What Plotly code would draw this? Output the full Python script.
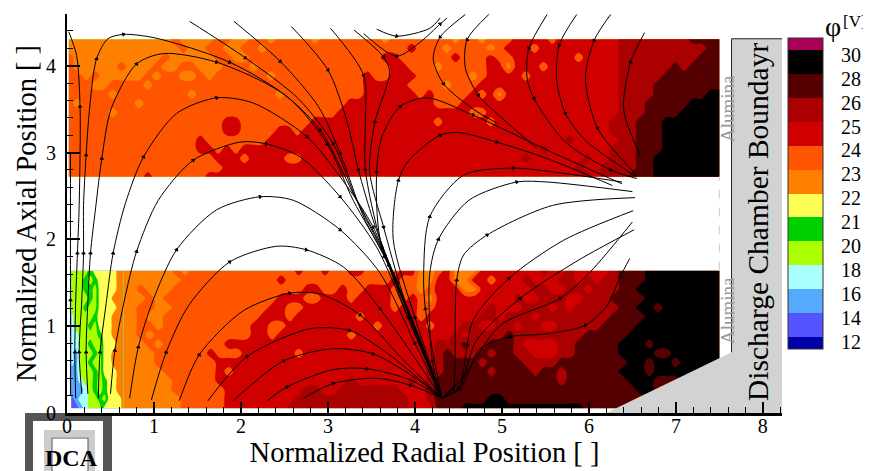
import numpy as np
import plotly.graph_objects as go

FONT = "Liberation Serif"

# potential levels: letter -> colour band, labels at band boundaries
phi_tick_labels = ["12", "14", "16", "18", "20", "21", "22", "23", "24", "25", "26", "28", "30"]
band_letters = "abcdefghijklmn"
band_colors = ["#0000a8", "#5555ff", "#55aaff", "#aaffff", "#aaff00", "#00d000", "#ffff55",
               "#ff8000", "#ff5500", "#d00000", "#aa0000", "#550000", "#000000", "#aa0055"]

# upper band of the field, top row first, x from axis to 7.5
upper_band = [
 "hhhhhhhhhh hhihhhhiih hiihiiiihi iiiiiihiii iiiihiihii ijjjjijjjj jjjkkkkkkk kllll",
 "hhhhhhhhhh hhhihhiihh iihiiiiiii iiiiiiiiij iiihiiiihi jjjijjjjjj jjjkkkkkkk kkkll",
 "ihhhhhhhhh hihhhhhiih hiiiiiiiii iiiiiijjii iiiijiiiji ijjjjjjjij jjjkkkkkkk kklll",
 "ihhhhhihhh ihhiihhhii ihiiiiiiii iiiiiiijji iihiiiiijj hjjjijjjjj jjjkkkkkkl kllll",
 "iihihhhhhi hiihhihiii iiihiiiiii iiiijiijjj iiiiiihijj jjijjjjjjj jjjkkkkkll lllll",
 "iiihhiiiih iiiiiiiiii iiiiiiiiii iiiijjjjji iiihiiijjj jjjjjjjjjj jjjkkkklll lllll",
 "iiiiihiiii iiiihiiiii iiiihiiiii iiiijjjjjj ijiiiijijh jjjjjjjjjj jjjkkkklll lllmm",
 "ihiiiiiihi iiiiiiiiii iiiiiiiiii iijjjjjjjj jjiiijjjjj jjjjjjjjjj jjjkkkllll lmmmm",
 "iiiiihiiii iiiiiiiiii iiiiiiiiii ijjjjjjjjj jjjjjjiijj jjjjjjjjjj jjjkkkllll mmmmm",
 "iiiiiiiiii iiiiiiiijj iiiiiiiijj jjjjjjjjjj jjijjjjjij jjjjjjjjjj jjkkklllmm mmmmm",
 "iiiiiiiiii iiiiiiiijj iiiijjijjj jjjjjjjjjj jjjjjjjjjj jjjjjjjjjj jjkkklllmm mmmmm",
 "iiiiiiiiii iiiiijiiii iiijjjjjjj jjjjjjjjjj jjjjjjjjjj jjjjjjjkjj jjjkklllmm mmmmm",
 "iiiiiiiiii iiiiijjiji jjjjjjjjjj jjjjjjjjjj jjjjjjjjjj jjjjkjjjjj jjkkklllmm mmmmm",
 "iiiiiiiiii iiiiiiijjj ijjjjiijjj jjjjjjjjjj jjjjjjjjjj jjkjjjjjjk jjkkkllmmm mmmmm",
 "iiiiiiiiii iiiiiiiijj jjjjjjjjjj jjjjjjjjjj jjjjjjjjjj jjjjjjjjkj jkkkkllmmm mmmmm",
 "iiiiiiiiij iiiiiijjjj jjjjjjjjjj jjjjjjjjjj jjjjjjjjjj jjjjjjjjjk jkkklllmmm mmmmm",
]

# lower band, x from 0.65 to 7.5
lower_band = [
 "hhhh hhihiiiiii iiiiiijiij iijjiiiijj hhijhhhjjj jjjjkjjkjj jjklllmmmm mmmmm",
 "hhhh hhhiiiiiii iiiijiiiii iiiiiiijii hhjjhhjjij jjkjjjkkjk jkklllmmmm mmmmm",
 "hhih hhiiiiiiii iiiiiiijji ijiijjjiii hijjjhhjjj jjjkkjjkkj kkkllmmmmm mmmmm",
 "hhhi hiiiiiiiii iiiijjjiij jjijjjjiij ihjjjjjjjj jkjjkkkjjk kkllllmmmm mmmmm",
 "hhii hhiiiiiiii iiijjiijjj jjjjjjjijj iijjjjjjkj jjkkkjkjkk kkkllmmlmm mmmmm",
 "hhih hiiiiiiiii iijjjijjjj jjjijjjjjj ijjjjjjkkj kkkjkkkkkk kkllllmmmm mmmmm",
 "hhii hiiiiiiiii ijjiijjjjj jjjjjijjjj jijjjkkjjk kjkkjjkkkk kllllmmmmm mmmmm",
 "hhih iiiiiiiiii ijjijjjjjj jjijjjjjjj jjjjkjkkkk lkkkkkkkkl llllmmmmmm mmmmm",
 "hhhi hiiiiiiijj jjjjjjjjjj jjjjjjjjjj jjkkklkkll lkjjjjkkll lllmmmlmmm mmmmm",
 "hhhh iiiiiijiii jjjjjjijjj jjjjjjjjjj jjklkkklkl lkkjjjkkll lllmmmmllm mmmmm",
 "hhhh iiiiiiijjj jjjjjjjjjj jjjjjjjjjj jjkllllkll llkkkkllll llllmmlmml mmmmm",
 "hhhh hiiiiiijij jjjjjjjjjj jjjjjjjjjj jkklllllkl lllkllklll lllmmmlmmm mmmmm",
 "hhhh hhiiiiijjj jjjjjjjjjj jjkjjjjjjk jkllllllll llllllklll llllmmmlll mmmmm",
 "hhhh hhiiiiiijj jjjjjjjkkj jkkkkkkkjj jkllllllll llllllllll lllllmmlll mmmmm",
 "hhhh hhhiiiiijj jjjjjjkkkk kkkkkkkkkj jkllllllmm llllllllll lllllllmll mmmmm",
 "hhhh hhhiiiiijj jjjjjkkkkk kkkkkkkkkj jjlllmmmmm mmmmmmmmml lllllllmmm mmmmm",
]

# lower band close to the cathode, x from 0.05 to 0.65
cathode_band = [
 "eeeefggggghh", "eeefefgggghh", "eeeffegggghh", "eeeefeggghhh",
 "eeefeegggghh", "deeeefggghhh", "deeefeggghhh", "ddeeeefgghhh",
 "ddeefeeggghh", "dceeefegghhh", "dceefeegghhh", "cceeefeggghh",
 "ccdeefefgghh", "cccdefefgghh", "bcddeefegggh", "bbcdeeeggggh",
]

upper_x_limits, upper_y_limits = (0.02, 7.5), (2.72, 4.305)
lower_x_limits, lower_y_limits = (0.65, 7.5), (0.055, 1.637)
cathode_x_limits = (0.05, 0.65)

focus = (4.31, 0.17)

# streamlines, (radial, axial)
arc_lines = [
 [(2.72,0.17),(3.06,0.34),(3.56,0.40),(3.95,0.32),focus],
 [(2.30,0.14),(2.53,0.30),(3.06,0.50),(3.45,0.51),(3.95,0.38),focus],
 [(1.91,0.14),(2.49,0.60),(3.06,0.74),(3.52,0.68),(3.98,0.42),focus],
 [(1.62,0.14),(2.07,0.65),(2.79,0.97),(3.25,0.95),(3.64,0.72),focus],
 [(1.29,0.14),(1.52,0.67),(2.03,1.18),(2.56,1.38),(2.91,1.37),(3.37,1.13),(3.83,0.65),focus],
 [(0.97,0.15),(1.14,0.70),(1.40,1.24),(1.87,1.74),(2.41,1.92),(2.75,1.88),(3.18,1.68),(3.60,1.20),focus],
 [(0.72,0.17),(0.82,0.76),(0.99,1.30),(1.26,1.88),(1.72,2.34),(2.22,2.49),(2.60,2.45),(3.14,2.11),(3.60,1.61),(4.0,0.8),focus],
 [(0.50,0.22),(0.55,0.72),(0.66,1.30),(0.80,1.86),(1.05,2.45),(1.45,2.91),(1.99,3.12),(2.29,3.10),(2.68,2.95),(3.14,2.49),(3.56,1.91),(3.92,1.1),focus],
 [(0.36,0.17),(0.38,0.70),(0.45,1.26),(0.53,1.84),(0.67,2.41),(0.88,2.95),(1.26,3.45),(1.72,3.63),(2.14,3.57),(2.76,3.18),(3.22,2.61),(3.52,2.14),(3.92,1.1),focus],
 [(0.24,0.22),(0.22,0.70),(0.24,1.28),(0.27,1.84),(0.33,2.37),(0.40,2.93),(0.51,3.51),(0.80,4.02),(1.11,4.14),(1.72,4.04),(2.45,3.70),(2.91,3.26),(3.29,2.53),(3.62,1.9),(3.95,1.1),focus],
 [(0.17,0.22),(0.14,0.70),(0.17,1.30),(0.19,1.84),(0.19,2.39),(0.22,2.97),(0.26,3.51),(0.34,4.08),(0.47,4.31),(0.65,4.36),(1.01,4.32),(1.87,4.04),(2.56,3.62),(2.99,3.10),(3.29,2.45),(3.65,1.8),(3.98,1.0),focus],
]
axis_lines = [
 [(0.10,0.17),(0.09,0.70),(0.10,1.30),(0.12,1.84),(0.14,2.39),(0.15,3.53),(0.11,4.12),(0.02,4.39)],
 [(0.04,0.2),(0.04,1.3),(0.04,2.4),(0.04,3.0)],
]
top_lines = [
 [(1.41,4.51),(2.05,4.09),(2.66,3.62),(3.06,3.10),(3.33,2.45),(3.66,1.8),(4.0,1.0),focus],
 [(1.92,4.51),(2.45,4.05),(2.89,3.53),(3.14,2.99),(3.41,2.26),(3.7,1.7),(4.02,0.9),focus],
 [(2.58,4.45),(3.0,3.95),(3.21,3.39),(3.35,2.80),(3.52,2.22),(3.75,1.6),(4.05,0.85),focus],
 [(3.03,4.43),(3.41,3.89),(3.43,3.35),(3.43,2.80),(3.6,2.0),(3.8,1.5),(4.08,0.75),focus],
 [(3.30,4.41),(3.64,4.10),(3.71,3.93),(3.54,3.35),(3.48,2.78),(3.64,2.14),(3.85,1.4),(4.1,0.7),focus],
 [(3.41,4.37),(3.79,4.11),(4.06,4.27),(4.29,4.48),(4.37,4.55)],
 [(3.56,4.42),(3.79,4.34),(4.17,4.43),(4.29,4.55)],
]
right_lines = [
 [(4.58,4.59),(4.29,4.33),(4.21,4.08),(4.33,3.79),(4.67,3.50),(4.94,3.34)],
 [(4.85,4.59),(4.60,4.30),(4.58,3.97),(4.73,3.66),(4.94,3.45),(5.40,3.05)],
 [(5.52,4.59),(5.31,4.20),(5.29,3.85),(5.37,3.62),(5.73,3.12),(6.25,2.80),(6.55,2.70)],
 [(5.86,4.59),(5.66,4.24),(5.63,3.83),(5.73,3.45),(5.96,3.14),(6.55,2.72)],
 [(6.25,4.59),(6.06,4.29),(5.96,3.85),(6.10,3.28),(6.55,2.74)],
 [(6.64,4.38),(6.48,4.04),(6.40,3.49),(6.59,2.97)],
]
middle_lines = [
 [focus,(3.95,1.1),(3.6,2.0),(3.56,2.78),(3.62,3.18),(3.83,3.53),(4.14,3.63),(4.67,3.43),(5.58,3.0),(6.38,2.64)],
 [focus,(4.0,1.1),(3.75,2.0),(3.81,2.68),(3.93,2.91),(4.29,3.20),(4.50,3.23),(4.94,3.12),(5.52,2.93),(6.27,2.62)],
 [focus,(4.12,1.2),(4.1,1.6),(4.17,2.26),(4.56,2.74),(5.13,2.82),(5.71,2.76),(6.38,2.66)],
 [focus,(4.20,0.6),(4.17,1.6),(4.27,2.0),(4.62,2.45),(5.17,2.66),(5.52,2.66),(6.50,2.55)],
 [focus,(4.44,0.28),(4.46,0.49),(4.48,1.53),(4.56,1.82),(4.83,2.05),(5.58,2.39),(6.53,2.48)],
 [focus,(4.50,0.28),(4.67,1.07),(5.08,1.55),(5.71,1.99),(6.51,2.33)],
 [focus,(4.50,0.28),(4.71,0.84),(5.21,1.32),(5.88,1.76),(6.52,2.11)],
 [focus,(4.56,0.42),(4.98,1.01),(5.67,1.32),(6.02,1.63),(6.50,2.2)],
 [focus,(4.52,0.28),(4.75,0.74),(5.10,0.88),(5.50,0.91),(5.96,1.01),(6.21,1.24),(6.36,1.57),(6.47,1.78)],
]

chamber_x = [7.64, 8.3, 8.3, 6.2, 7.64, 7.64]
chamber_y = [4.31, 4.31, 0.0, 0.0, 0.70, 4.31]
chamber_edge_x = [8.24, 7.64, 7.64]
chamber_edge_y = [4.31, 4.31, 0.70]
alumina_gap_x = [7.5, 7.5]
alumina_gap_y = [1.64, 2.72]

ticks = [0, 1, 2, 3, 4, 5, 6, 7, 8]
yticks = [0, 1, 2, 3, 4]

# plot frame in page pixels; the page body adds an 8 px margin round the figure
PAGE_W, PAGE_H, BODY = 871, 471, 8
L, R, T, B = 67, 782, 14, 413
def px(v): return (v - L) / (R - L)
def py(v): return (B - v) / (B - T)

z_of = {ch: (0.75 if i == 0 else 13.25 if i == 13 else float(i) + 0.5) for i, ch in enumerate(band_letters)}

def field(rows, xlim, ylim, ncol):
    rows = [r.replace(" ", "") for r in rows]
    assert all(len(r) == ncol for r in rows), [len(r) for r in rows]
    z = np.array([[z_of[c] for c in r] for r in rows[::-1]])
    return go.Contour(z=z, x=np.linspace(xlim[0], xlim[1], ncol), y=np.linspace(ylim[0], ylim[1], len(rows)),
                      coloraxis="coloraxis", hoverinfo="skip", line=dict(width=0),
                      contours=dict(start=1, end=13, size=1, coloring="fill", showlines=False))

fig = go.Figure()
fig.add_trace(field(upper_band, upper_x_limits, upper_y_limits, 75))
fig.add_trace(field(lower_band, lower_x_limits, lower_y_limits, 69))
fig.add_trace(field(cathode_band, cathode_x_limits, lower_y_limits, 12))

fig.add_trace(go.Scatter(x=chamber_x, y=chamber_y, mode="lines", fill="toself", fillcolor="#d2d2d2",
                         line=dict(width=0, color="#d2d2d2"), hoverinfo="skip", showlegend=False))
fig.add_trace(go.Scatter(x=chamber_edge_x, y=chamber_edge_y, mode="lines",
                         line=dict(width=1, color="#222"), hoverinfo="skip", showlegend=False))
fig.add_trace(go.Scatter(x=alumina_gap_x, y=alumina_gap_y, mode="lines",
                         line=dict(width=1, color="#cccccc", dash="dash"), hoverinfo="skip", showlegend=False))

for line in arc_lines + axis_lines + top_lines + right_lines + middle_lines:
    xs = [p[0] for p in line]
    ys = [p[1] for p in line]
    sizes = [3 if 0 < i < len(line) - 1 and i % 2 == 1 else 0 for i in range(len(line))]
    fig.add_trace(go.Scatter(x=xs, y=ys, mode="lines+markers",
                             line=dict(color="black", width=1, shape="spline", smoothing=0.8),
                             marker=dict(symbol="triangle-up", size=sizes, color="black", opacity=1,
                                         line=dict(color="black", width=1), angleref="previous"),
                             hoverinfo="skip", showlegend=False))

# colour scale: half-height end bands
cmin, cmax = 0.5, 13.5
stops = [0.5, 1] + list(range(2, 14)) + [13.5]
scale = []
for i, col in enumerate(band_colors):
    scale.append([(stops[i] - cmin) / (cmax - cmin), col])
    scale.append([(stops[i + 1] - cmin) / (cmax - cmin), col])

CB_TOP, CB_H, CB_L, CB_W = 38, 311, 788, 35
boundaries = list(range(1, 14))

shapes = []
def rect(x0, y0, x1, y1, color):
    shapes.append(dict(type="rect", xref="paper", yref="paper", x0=px(x0), x1=px(x1), y0=py(y0), y1=py(y1),
                       fillcolor=color, line=dict(width=0), layer="below"))
rect(25, 413, 33, 471, "#555555")
rect(25, 413, 112, 421, "#555555")
rect(103, 413, 112, 471, "#555555")
rect(44, 430, 52, 471, "#cccccc")
rect(44, 430, 95, 437, "#cccccc")
rect(88, 430, 95, 471, "#cccccc")
shapes.append(dict(type="path", xref="paper", yref="paper", layer="below",
                   path=f"M {px(52)} {py(471)} L {px(52)} {py(438)} L {px(88)} {py(438)} L {px(88)} {py(471)}",
                   line=dict(width=1, color="#555555")))
for b in boundaries:
    yb = CB_TOP + CB_H * (cmax - b) / (cmax - cmin)
    shapes.append(dict(type="line", xref="paper", yref="paper", x0=px(CB_L), x1=px(CB_L + CB_W),
                       y0=py(yb), y1=py(yb), line=dict(width=1, color="#333333"), layer="above"))

def note(text, x, y, size, color="black", angle=0, **kw):
    return dict(text=text, xref="paper", yref="paper", x=px(x), y=py(y), showarrow=False, textangle=angle,
                font=dict(family=FONT, size=size, color=color), xanchor="center", yanchor="middle", **kw)

annotations = [
    note("Discharge Chamber Boundayr", 758, 222, 29.5, angle=-90),
    note("Alumina", 727, 109, 19, color="#999999", angle=-90),
    note("Alumina", 727, 311, 19, color="#999999", angle=-90),
    note("<b>DCA</b>", 71, 458, 24),
    note("φ", 833, 26, 28),
    note("[V]", 855, 21, 17),
]

axis_common = dict(showgrid=False, zeroline=False, showline=True, linecolor="black", automargin=False,
                   ticks="inside", tickcolor="black", tickwidth=2,
                   tickfont=dict(family=FONT, size=20, color="black"))

fig.update_layout(
    width=PAGE_W - BODY, height=PAGE_H - BODY,
    margin=dict(l=L - BODY, r=PAGE_W - R, t=T - BODY, b=PAGE_H - B, autoexpand=False),
    paper_bgcolor="white", plot_bgcolor="white",
    font=dict(family=FONT, color="black"),
    showlegend=False,
    shapes=shapes,
    annotations=annotations,
    coloraxis=dict(cmin=cmin, cmax=cmax, colorscale=scale,
                   colorbar=dict(x=px(CB_L), xanchor="left",
                                 y=py(CB_TOP), yanchor="top", lenmode="pixels", len=CB_H,
                                 thicknessmode="pixels", thickness=CB_W, xpad=0, ypad=0,
                                 outlinecolor="#333333", outlinewidth=1,
                                 tickmode="array", tickvals=[b - 0.2 for b in boundaries],
                                 ticktext=phi_tick_labels, ticks="outside", ticklen=14,
                                 tickcolor="rgba(0,0,0,0)",
                                 tickfont=dict(family=FONT, size=20, color="black"))),
    xaxis=dict(range=[0, 8.22], tickmode="array", tickvals=ticks, ticklen=11, linewidth=3, ticklabelstandoff=-7,
               minor=dict(dtick=0.2, tick0=0, ticks="inside", ticklen=6, tickcolor="black", tickwidth=1),
               title=dict(text="Normalized Radial Position [ ]", font=dict(family=FONT, size=28.5, color="black"), standoff=2),
               **axis_common),
    yaxis=dict(range=[0, 4.595], tickmode="array", tickvals=yticks, ticklen=13, linewidth=2, ticklabelstandoff=5,
               minor=dict(dtick=0.2, tick0=0, ticks="inside", ticklen=6, tickcolor="black", tickwidth=1),
               title=dict(text="Normalized Axial Position [ ]", font=dict(family=FONT, size=28.5, color="black"), standoff=1),
               **axis_common),
)

fig.write_html("out.html")
